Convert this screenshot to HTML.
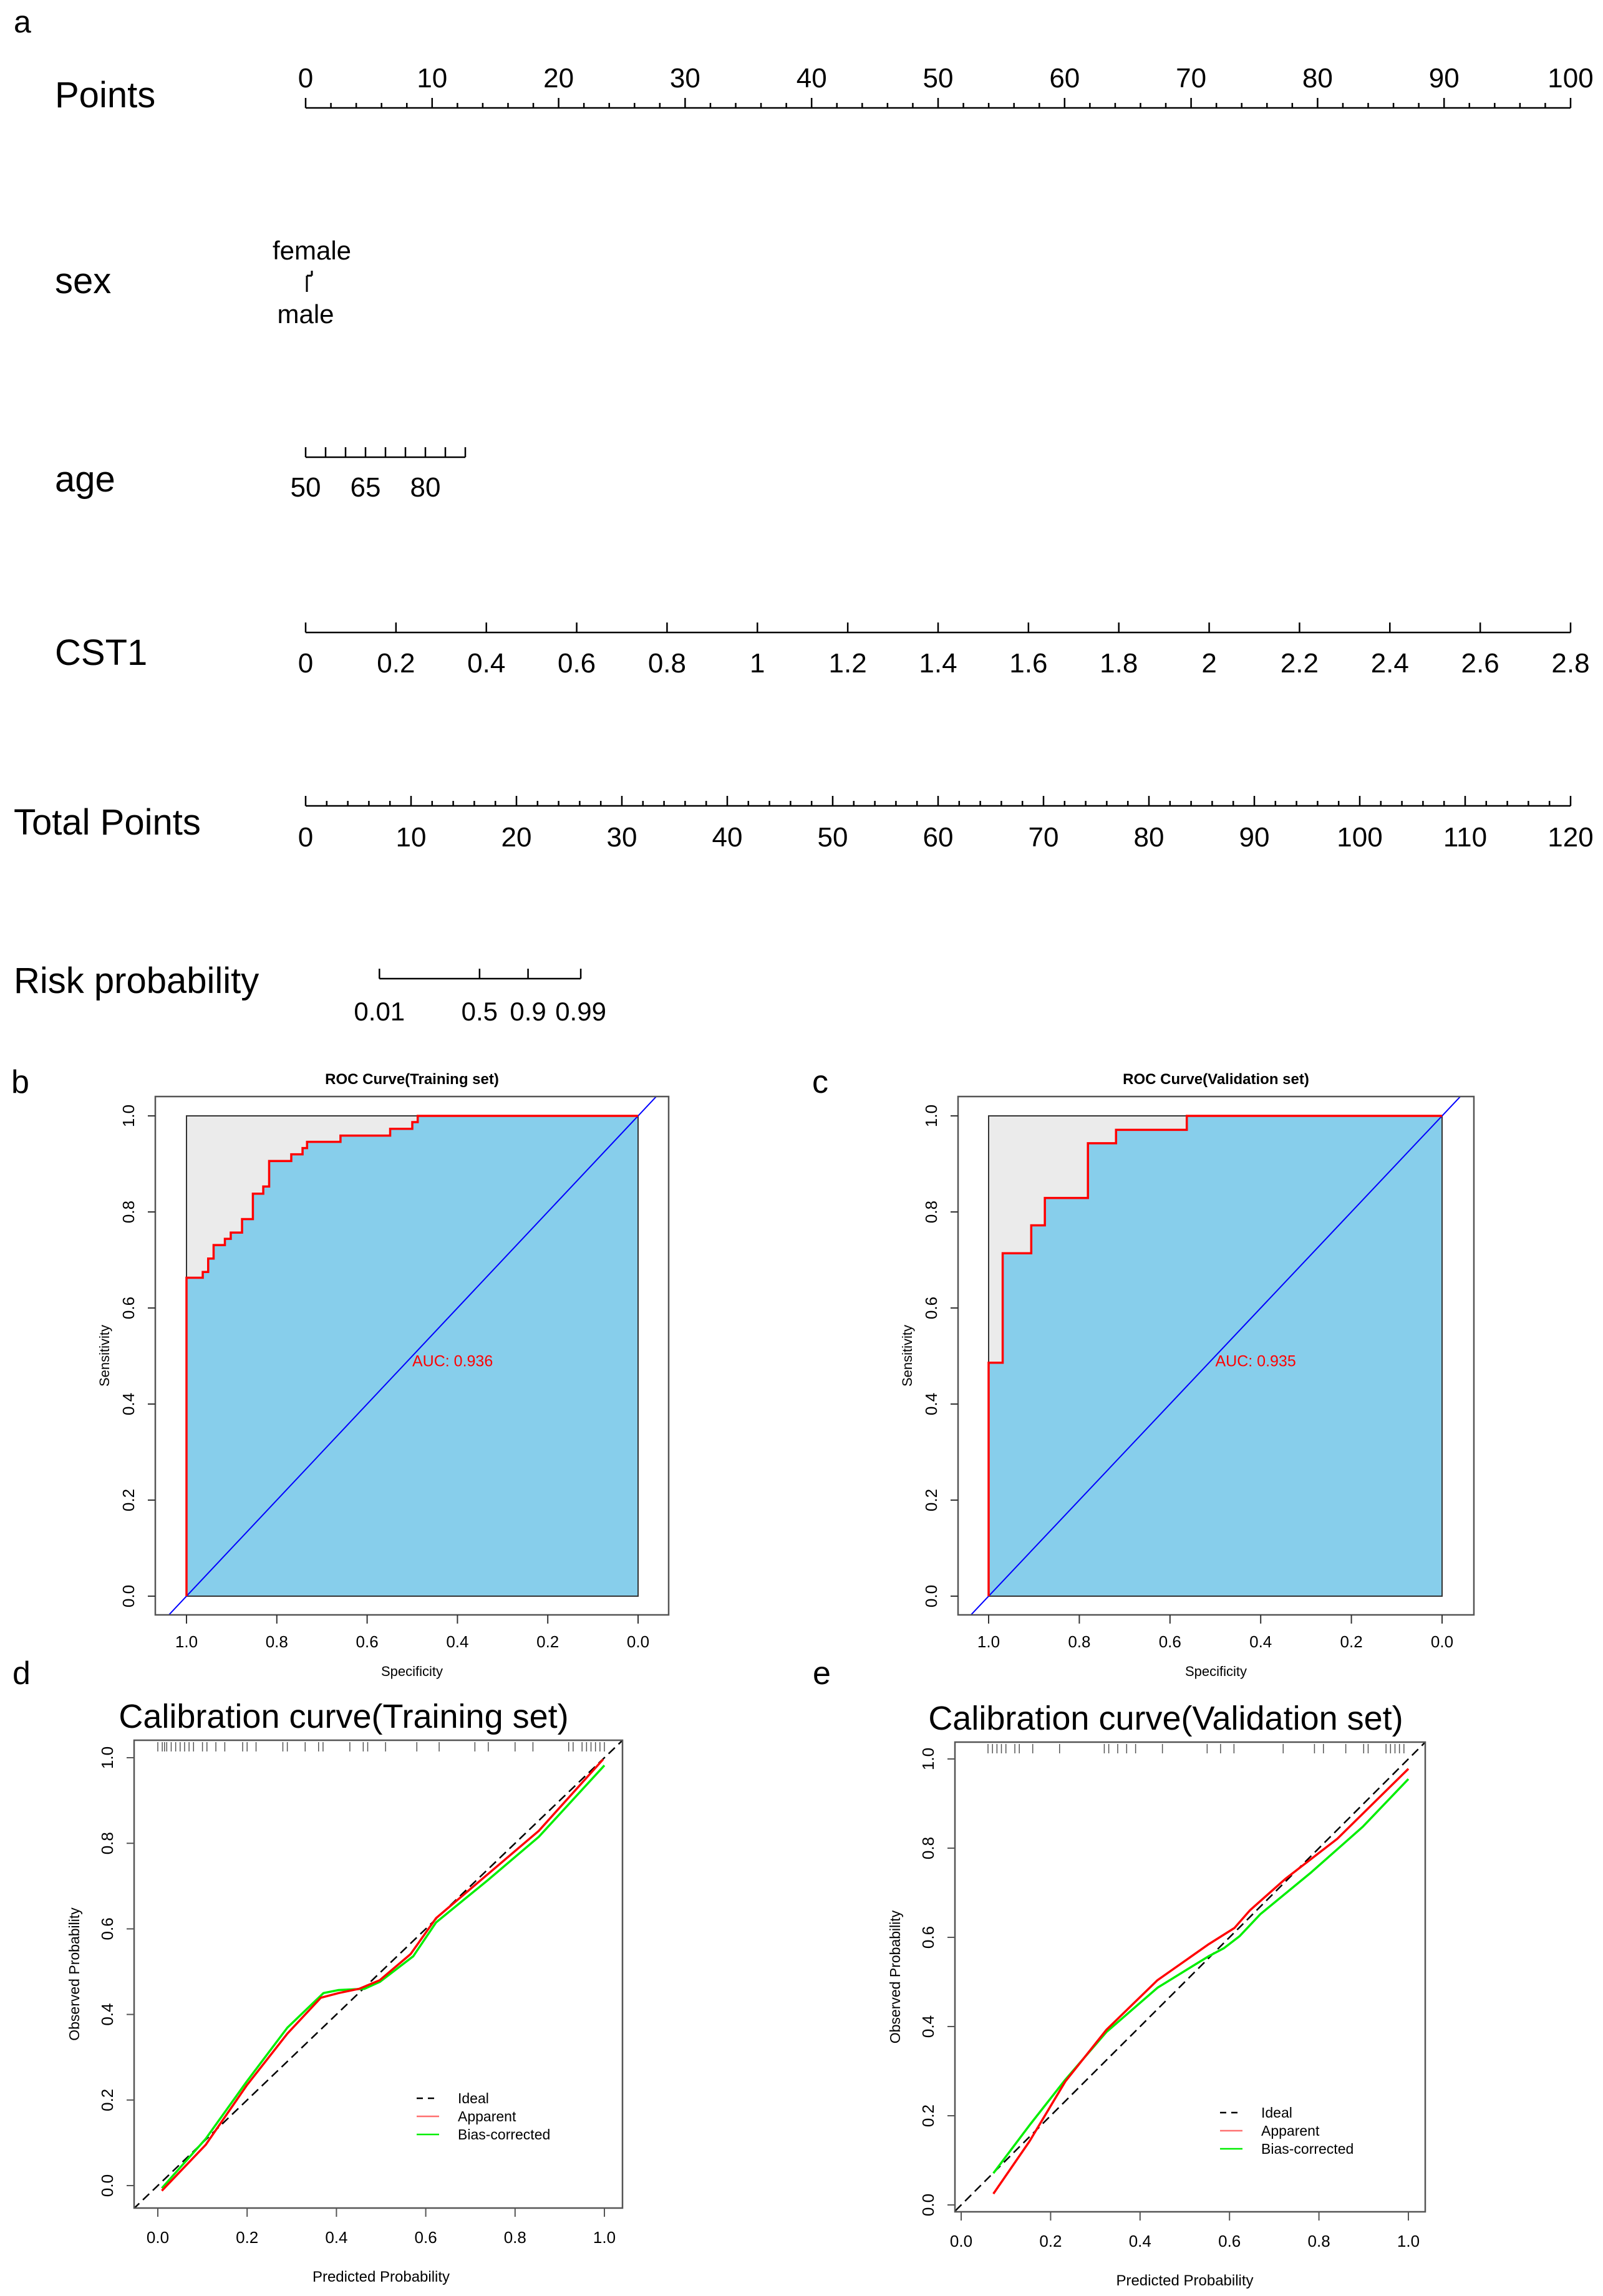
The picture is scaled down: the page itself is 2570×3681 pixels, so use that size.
<!DOCTYPE html>
<html><head><meta charset="utf-8"><style>
html,body{margin:0;padding:0;background:#fff}
svg{display:block;font-family:"Liberation Sans",Arial,sans-serif}
</style></head><body>
<svg id="fig" width="2570" height="3681" viewBox="0 0 2570 3681" xmlns="http://www.w3.org/2000/svg">
<rect width="2570" height="3681" fill="#fff"/>
<g id="nomo"></g>
<g id="rocb"></g>
<g id="rocc"></g>
<g id="cald"></g>
<g id="cale"></g>
</svg>
<script>
// ---------- data ----------
const pointsTicks = [0,10,20,30,40,50,60,70,80,90,100];
const totalTicks = [0,10,20,30,40,50,60,70,80,90,100,110,120];
const cstTicks = [0,0.2,0.4,0.6,0.8,1,1.2,1.4,1.6,1.8,2,2.2,2.4,2.6,2.8];
const cstLabels = ["0","0.2","0.4","0.6","0.8","1","1.2","1.4","1.6","1.8","2","2.2","2.4","2.6","2.8"];
const ageTicks = [50,55,60,65,70,75,80,85,90];
const ageLabels = [50,65,80];
const riskTicks = [0.01,0.5,0.9,0.99];
const riskPos = [7.0,16.5,21.1,26.1]; // total-points position of each risk tick
const rocTrainSpec = [1,1,0.964,0.952,0.940,0.915,0.902,0.877,0.853,0.830,0.817,0.768,0.743,0.733,0.659,0.549,0.5,0.488,0];
const rocTrainSens = [0,0.663,0.675,0.703,0.731,0.744,0.757,0.785,0.838,0.853,0.906,0.920,0.933,0.946,0.959,0.973,0.987,1,1];
const rocValSpec = [1,1,0.969,0.906,0.876,0.781,0.719,0.563,0];
const rocValSens = [0,0.486,0.714,0.772,0.829,0.943,0.971,1,1];
const calTrainX = [0.009,0.107,0.199,0.29,0.365,0.405,0.451,0.497,0.566,0.623,0.738,0.853,0.997];
const calTrainApp = [-0.012,0.095,0.234,0.355,0.439,0.45,0.46,0.48,0.541,0.625,0.727,0.829,0.996];
const calTrainBiasX = [0.009,0.107,0.199,0.29,0.371,0.405,0.463,0.497,0.572,0.623,0.738,0.853,1.0];
const calTrainBias = [-0.006,0.109,0.243,0.369,0.45,0.457,0.46,0.476,0.536,0.615,0.713,0.815,0.982];
const calValX = [0.072,0.153,0.233,0.325,0.439,0.554,0.611,0.646,0.726,0.841,1.0];
const calValApp = [0.025,0.143,0.277,0.393,0.504,0.585,0.621,0.661,0.732,0.821,0.978];
const calValBiasX = [0.072,0.153,0.233,0.325,0.439,0.554,0.588,0.623,0.669,0.783,0.898,1.0];
const calValBias = [0.071,0.179,0.281,0.388,0.487,0.558,0.576,0.603,0.652,0.746,0.848,0.955];
const rugTrain = [0.0,0.01,0.015,0.02,0.03,0.04,0.05,0.06,0.07,0.08,0.1,0.11,0.13,0.15,0.19,0.2,0.22,0.28,0.29,0.33,0.36,0.37,0.43,0.46,0.47,0.51,0.58,0.63,0.71,0.74,0.8,0.84,0.92,0.93,0.95,0.96,0.97,0.98,0.99,1.0];
const rugVal = [0.06,0.07,0.08,0.09,0.1,0.12,0.13,0.16,0.22,0.32,0.33,0.35,0.37,0.39,0.45,0.55,0.58,0.61,0.72,0.79,0.81,0.86,0.9,0.91,0.95,0.96,0.97,0.98,0.99];

const NS = "http://www.w3.org/2000/svg";
function mk(parent, tag, attrs, text){
  const e = document.createElementNS(NS, tag);
  for (const k in attrs) e.setAttribute(k, attrs[k]);
  if (text !== undefined) e.textContent = text;
  parent.appendChild(e);
  return e;
}
function line(p,x1,y1,x2,y2,st,w){return mk(p,'line',{x1,y1,x2,y2,stroke:st||'#000','stroke-width':w||2.5});}

// ---------- nomogram ----------
const nomo = document.getElementById('nomo');
const NX0 = 490, NX1 = 2518;
const px = v => NX0 + (NX1-NX0)*v/100;
const tx = v => NX0 + (NX1-NX0)*v/120;
let t;
t = mk(nomo,'text',{x:22,y:52,'font-size':50},'a');
 
const rowLabels = [["Points",88,172],["sex",88,470],["age",88,788],["CST1",88,1066],["Total Points",22,1338],["Risk probability",22,1592]];
rowLabels.forEach(r=>{
  const e = mk(nomo,'text',{x:r[1],y:r[2],'font-size':58},r[0]);
  
  
});
const pAx = line(nomo,NX0,173,NX1,173);
 
for (let v=0; v<=100; v+=2){ const maj = v%10===0; line(nomo,px(v),173,px(v),maj?157:165); }
pointsTicks.forEach(v=>{
  const e = mk(nomo,'text',{x:px(v),y:140,'font-size':44,'text-anchor':'middle'},String(v));
   
});
line(nomo,492,442,492,468,'#000',3); line(nomo,492,442,500,442,'#000',3); line(nomo,500,442,500,434,'#000',3);
t = mk(nomo,'text',{x:500,y:416,'font-size':42,'text-anchor':'middle'},'female');
 
t = mk(nomo,'text',{x:490,y:518,'font-size':42,'text-anchor':'middle'},'male');
 
const ageX = a => 490 + (a-50)*(746-490)/40;
t = line(nomo,ageX(50),733,ageX(90),733);
 
ageTicks.forEach(a=>line(nomo,ageX(a),733,ageX(a),717));
ageLabels.forEach(a=>{
  const e = mk(nomo,'text',{x:ageX(a),y:796,'font-size':44,'text-anchor':'middle'},String(a));
   
});
const cX = c => NX0 + (NX1-NX0)*c/2.8;
t = line(nomo,NX0,1014,NX1,1014);
 
cstTicks.forEach((c,i)=>{
  line(nomo,cX(c),1014,cX(c),998);
  const e = mk(nomo,'text',{x:cX(c),y:1078,'font-size':44,'text-anchor':'middle'},cstLabels[i]);
   
});
t = line(nomo,NX0,1292,NX1,1292);
 
for (let v=0; v<=120; v+=2){ const maj=v%10===0; line(nomo,tx(v),1292,tx(v),maj?1276:1284); }
totalTicks.forEach(v=>{
  const e = mk(nomo,'text',{x:tx(v),y:1357,'font-size':44,'text-anchor':'middle'},String(v));
   
});
t = line(nomo,tx(riskPos[0]),1569,tx(riskPos[3]),1569);
 
riskTicks.forEach((r,i)=>{
  line(nomo,tx(riskPos[i]),1569,tx(riskPos[i]),1553);
  const e = mk(nomo,'text',{x:tx(riskPos[i]),y:1636,'font-size':42,'text-anchor':'middle'},String(r));
   
});

// ---------- ROC ----------
function roc(gid, cfg, specs, sens, letter, title, auc){
  const g = document.getElementById(gid);
  const {fx0,fx1,fy0,fy1,ix0,ix1,iy1,iy0,lx} = cfg;
  const X = s => ix1 + (ix0-ix1)*s;
  const Y = s => iy0 + (iy1-iy0)*s;
  let e = mk(g,'text',{x:lx,y:1752,'font-size':52},letter);
   
  e = mk(g,'text',{x:(fx0+fx1)/2,y:1738,'font-size':24,'font-weight':'bold','text-anchor':'middle'},title);
   
  mk(g,'rect',{x:X(1),y:Y(1),width:X(0)-X(1),height:Y(0)-Y(1),fill:'#ebebeb',stroke:'#333','stroke-width':2});
  let d = 'M'+X(specs[0])+','+Y(sens[0]);
  for (let i=1;i<specs.length;i++) d += ' H'+X(specs[i])+' V'+Y(sens[i]);
  const area = mk(g,'path',{d:d+' L'+X(0)+','+Y(0)+' Z',fill:'#87ceeb',stroke:'none'});
   
  mk(g,'rect',{x:X(1),y:Y(1),width:X(0)-X(1),height:Y(0)-Y(1),fill:'none',stroke:'#333','stroke-width':2});
  const cid = gid+'clip';
  const cp = mk(g,'clipPath',{id:cid}); mk(cp,'rect',{x:fx0,y:fy0,width:fx1-fx0,height:fy1-fy0});
  e = mk(g,'line',{x1:X(1.1),y1:Y(-0.1),x2:X(-0.1),y2:Y(1.1),stroke:'#0000ff','stroke-width':2,'clip-path':'url(#'+cid+')'});
   
  e = mk(g,'path',{d:d,fill:'none',stroke:'#ff0000','stroke-width':3.5});
   
  mk(g,'rect',{x:fx0,y:fy0,width:fx1-fx0,height:fy1-fy0,fill:'none',stroke:'#555','stroke-width':2.5});
  e = mk(g,'text',{x:X(0.5),y:Y(0.49)+9,'font-size':25,fill:'#ff0000'},'AUC: '+auc);
   
  [0,0.2,0.4,0.6,0.8,1].forEach(v=>{
    line(g,fx0-12,Y(v),fx0,Y(v),'#333',2);
    const ty = mk(g,'text',{x:0,y:0,'font-size':26,'text-anchor':'middle',transform:'translate('+(fx0-34)+','+Y(v)+') rotate(-90)'},v.toFixed(1));
     
    line(g,X(v),fy1,X(v),fy1+14,'#333',2);
    const tt = mk(g,'text',{x:X(v),y:fy1+52,'font-size':26,'text-anchor':'middle'},v.toFixed(1));
     
  });
  e = mk(g,'text',{x:0,y:0,'font-size':22,'text-anchor':'middle',transform:'translate('+(fx0-74)+','+((fy0+fy1)/2)+') rotate(-90)'},'Sensitivity');
   
  e = mk(g,'text',{x:(fx0+fx1)/2,y:fy1+98,'font-size':22,'text-anchor':'middle'},'Specificity');
   
}
roc('rocb',{fx0:249,fx1:1072,fy0:1758,fy1:2589,ix0:299,ix1:1023,iy1:1789,iy0:2559,lx:18},rocTrainSpec,rocTrainSens,'b','ROC Curve(Training set)','0.936');
roc('rocc',{fx0:1536,fx1:2363,fy0:1758,fy1:2589,ix0:1585,ix1:2312,iy1:1789,iy0:2559,lx:1302},rocValSpec,rocValSens,'c','ROC Curve(Validation set)','0.935');

// ---------- Calibration ----------
function cal(gid,cfg,xs,app,bxs,bias,rug,letter,title){
  const g = document.getElementById(gid);
  const {fx0,fx1,fy0,fy1,x0,x1,y0,y1,lx,ly,tcx,lex} = cfg;
  const X = v => x0 + (x1-x0)*v;
  const Y = v => y0 + (y1-y0)*v;
  let e = mk(g,'text',{x:lex,y:2700,'font-size':52},letter);
   
  e = mk(g,'text',{x:tcx,y:fy0-20,'font-size':54,'text-anchor':'middle'},title);
   
  const cid = gid+'clip';
  const cp = mk(g,'clipPath',{id:cid}); mk(cp,'rect',{x:fx0,y:fy0,width:fx1-fx0,height:fy1-fy0});
  rug.forEach(r=>{
    const rl = mk(g,'line',{x1:X(r),y1:fy0+3,x2:X(r),y2:fy0+18,stroke:'#555','stroke-width':1.5});
     
  });
  e = mk(g,'line',{x1:X(-0.1),y1:Y(-0.1),x2:X(1.1),y2:Y(1.1),stroke:'#000','stroke-width':2.5,'stroke-dasharray':'14,8','clip-path':'url(#'+cid+')'});
   
  const pth = (a,b)=> a.map((v,i)=>(i?'L':'M')+X(v)+','+Y(b[i])).join(' ');
  e = mk(g,'path',{d:pth(bxs,bias),fill:'none',stroke:'#00ee00','stroke-width':3.5,'stroke-linejoin':'round'});
   
  e = mk(g,'path',{d:pth(xs,app),fill:'none',stroke:'#ff0000','stroke-width':3.5,'stroke-linejoin':'round'});
   
  mk(g,'rect',{x:fx0,y:fy0,width:fx1-fx0,height:fy1-fy0,fill:'none',stroke:'#555','stroke-width':2.5});
  [0,0.2,0.4,0.6,0.8,1].forEach(v=>{
    line(g,fx0-12,Y(v),fx0,Y(v),'#555',2);
    const ty = mk(g,'text',{x:0,y:0,'font-size':26,'text-anchor':'middle',transform:'translate('+(fx0-34)+','+Y(v)+') rotate(-90)'},v.toFixed(1));
     
    line(g,X(v),fy1,X(v),fy1+14,'#555',2);
    const tt = mk(g,'text',{x:X(v),y:fy1+56,'font-size':26,'text-anchor':'middle'},v.toFixed(1));
     
  });
  e = mk(g,'text',{x:0,y:0,'font-size':23,'text-anchor':'middle',transform:'translate('+(fx0-88)+','+((fy0+fy1)/2)+') rotate(-90)'},'Observed Probability');
   
  e = mk(g,'text',{x:(x0+x1)/2,y:fy1+118,'font-size':24,'text-anchor':'middle'},'Predicted Probability');
   
  const leg = [['Ideal','#000','10,8'],['Apparent','#ff7070',''],['Bias-corrected','#00ee00','']];
  leg.forEach((l,i)=>{
    const yy = ly + i*29;
    const ll = mk(g,'line',{x1:lx,y1:yy,x2:lx+36,y2:yy,stroke:l[1],'stroke-width':2.5});
    if (l[2]) ll.setAttribute('stroke-dasharray',l[2]);
     
    const lt = mk(g,'text',{x:lx+66,y:yy+8,'font-size':23},l[0]);
     
  });
}
cal('cald',{fx0:215,fx1:998,fy0:2790,fy1:3540,x0:253,x1:969,y0:3504,y1:2818,lx:668,ly:3364,tcx:551,lex:20},calTrainX,calTrainApp,calTrainBiasX,calTrainBias,rugTrain,'d','Calibration curve(Training set)');
cal('cale',{fx0:1531,fx1:2285,fy0:2793,fy1:3546,x0:1541,x1:2258,y0:3535,y1:2820,lx:1956,ly:3387,tcx:1869,lex:1303},calValX,calValApp,calValBiasX,calValBias,rugVal,'e','Calibration curve(Validation set)');
</script>
</body></html>
